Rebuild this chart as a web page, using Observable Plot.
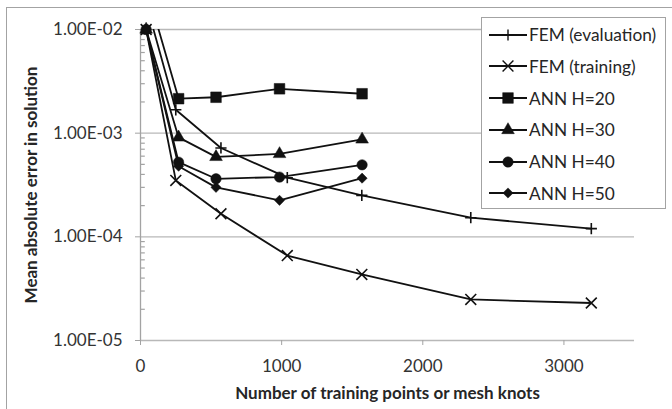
<!DOCTYPE html>
<html><head><meta charset="utf-8">
<script src="https://cdn.jsdelivr.net/npm/d3@7"></script>
<script src="https://cdn.jsdelivr.net/npm/@observablehq/plot@0.6"></script>
<style>
body{margin:0;background:#fff;}
#wrap{position:relative;width:672px;height:409px;overflow:hidden;font-family:Lato,"Open Sans",sans-serif;background:#fff;}
#wrap svg.plot{position:absolute;left:0;top:0;}
#border{position:absolute;left:6px;top:7px;width:720px;height:440px;border-left:1.5px solid #a3a3a3;border-top:1.5px solid #a3a3a3;}
#legend{position:absolute;left:481px;top:17px;width:183px;height:190px;border:1.5px solid #a3a3a3;background:#fff;}
.row{position:absolute;left:6px;height:20px;display:flex;align-items:center;}
.row span{font-size:17.3px;color:#262626;margin-left:1px;white-space:nowrap;}
</style></head>
<body><div id="wrap"><div id="border"></div></div>
<script>
// ---- data ----
const seriesNames = ["FEM (evaluation)", "FEM (training)", "ANN H=20", "ANN H=30", "ANN H=40", "ANN H=50"];
const femX = [40, 250, 570, 1040, 1568, 2340, 3194];
const annX = [40, 270, 535, 985, 1570];
const femEval  = [1.8e-2, 1.68e-3, 7.2e-4, 3.72e-4, 2.51e-4, 1.53e-4, 1.20e-4];
const femTrain = [1.0e-2, 3.5e-4, 1.67e-4, 6.6e-5, 4.34e-5, 2.49e-5, 2.3e-5];
const ann20 = [2.6e-2, 2.15e-3, 2.22e-3, 2.68e-3, 2.40e-3];
const ann30 = [1.0e-2, 9.1e-4, 5.9e-4, 6.3e-4, 8.7e-4];
const ann40 = [1.0e-2, 5.25e-4, 3.63e-4, 3.77e-4, 4.95e-4];
const ann50 = [1.0e-2, 4.8e-4, 3.0e-4, 2.25e-4, 3.68e-4];
const xTicks = [0, 1000, 2000, 3000];
const yTicks = [1e-5, 1e-4, 1e-3, 1e-2];
const yTickLabels = ["1.00E-05", "1.00E-04", "1.00E-03", "1.00E-02"];
const yMinorTicks = [];
for (const d of [1e-5, 1e-4, 1e-3]) for (let k = 2; k <= 9; k++) yMinorTicks.push(k * d);
const xLabel = "Number of training points or mesh knots";
const yLabel = "Mean absolute error in solution";

// ---- styles per series ----
const styles = [
  {symbol: "plus", r: 3.7, filled: false},
  {symbol: "times", r: 5, filled: false},
  {symbol: "square", r: 6, filled: true},
  {symbol: "triangle", r: 4.7, filled: true},
  {symbol: "circle", r: 5.2, filled: true},
  {symbol: "diamond2", r: 4.6, filled: true}
];
const xs = [femX, femX, annX, annX, annX, annX];
const ys = [femEval, femTrain, ann20, ann30, ann40, ann50];
const tables = ys.map((vals, i) => vals.map((v, j) => ({series: seriesNames[i], x: xs[i][j], y: v})));

const ink = "#111";
const gridC = "#b8b8b8";
const axisC = "#a3a3a3";
const marks = [
  Plot.ruleY(yTicks, {stroke: gridC, strokeWidth: 1.3}),
  Plot.ruleX([0], {stroke: axisC, strokeWidth: 1.3}),
  Plot.ruleY(yMinorTicks, {x1: 0, x2: 34, stroke: axisC, strokeWidth: 1.2}),
  Plot.axisY({ticks: yTicks, tickSize: 5, tickPadding: 13, stroke: axisC, tickFormat: (d) => yTickLabels[yTicks.indexOf(d)], fontSize: 17, fill: "#333", label: null}),
  Plot.axisX({ticks: xTicks, tickSize: 5, tickPadding: 14, stroke: axisC, tickFormat: d => String(d), fontSize: 17, fill: "#333", label: null}),
  Plot.text([yLabel], {frameAnchor: "left", rotate: -90, dx: -109, fontSize: 17, fontWeight: "bold", fill: "#262626", textAnchor: "middle"}),
  Plot.text([xLabel], {frameAnchor: "bottom", dy: 58, fontSize: 17, fontWeight: "bold", fill: "#262626", textAnchor: "middle"})
];
tables.forEach((t) => {
  marks.push(Plot.line(t, {x: "x", y: "y", stroke: ink, strokeWidth: 1.8, clip: true}));
});
tables.forEach((t, i) => {
  const s = styles[i];
  marks.push(Plot.dot(t.filter(d => d.y <= 1e-2), {x: "x", y: "y", symbol: () => s.symbol, r: s.r,
    fill: s.filled ? ink : "none", stroke: ink, strokeWidth: s.filled ? 0.5 : 1.6}));
});

const chart = Plot.plot({
  width: 672, height: 409,
  marginLeft: 140, marginRight: 38, marginTop: 29, marginBottom: 69,
  style: {fontFamily: "Lato, 'Open Sans', sans-serif", background: "transparent"},
  x: {domain: [0, 3500], label: null},
  y: {type: "log", domain: [1e-5, 1e-2], label: null},
  symbol: {domain: ["plus", "times", "square", "triangle", "circle", "diamond2"], range: ["plus", "times", "square", "triangle", "circle", "diamond2"]},
  marks
});
chart.classList.add("plot");
const wrap = document.getElementById("wrap");
wrap.appendChild(chart);

// ---- legend ----
const legend = document.createElement("div");
legend.id = "legend";
wrap.appendChild(legend);
const symMap = {plus: d3.symbolPlus, times: d3.symbolTimes, square: d3.symbolSquare, triangle: d3.symbolTriangle, circle: d3.symbolCircle, diamond2: d3.symbolDiamond2};
seriesNames.forEach((name, i) => {
  const s = styles[i];
  const row = document.createElement("div");
  row.className = "row";
  row.style.top = (18.2 + i * 31.7 - 10 - 1.5) + "px";
  const svg = d3.create("svg").attr("width", 40).attr("height", 20);
  svg.append("line").attr("x1", 1).attr("x2", 39).attr("y1", 10).attr("y2", 10).attr("stroke", ink).attr("stroke-width", 1.8);
  svg.append("path").attr("transform", "translate(20,10)")
    .attr("d", d3.symbol(symMap[s.symbol], Math.PI * s.r * s.r)())
    .attr("fill", s.filled ? ink : "none").attr("stroke", ink).attr("stroke-width", s.filled ? 0.5 : 1.4);
  row.appendChild(svg.node());
  const span = document.createElement("span");
  span.textContent = name;
  row.appendChild(span);
  legend.appendChild(row);
});
</script></body></html>
